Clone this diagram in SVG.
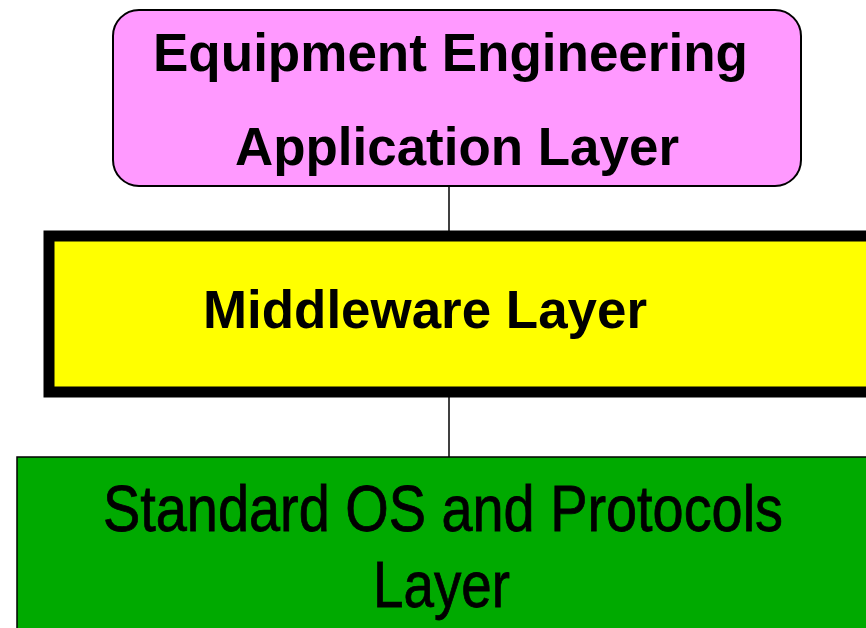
<svg xmlns="http://www.w3.org/2000/svg" width="866" height="628" viewBox="0 0 866 628">
<style>
.t{font-family:"Liberation Sans",Arial,sans-serif;fill:#000}
.b{font-weight:bold}
.h{stroke:#000;stroke-width:0.8}
.conn line{stroke:#000;stroke-width:1.5}
</style>
<rect width="866" height="628" fill="#fff"/>
<g class="conn">
<line x1="449" y1="186" x2="449" y2="232"/>
<line x1="449" y1="396" x2="449" y2="458"/>
</g>
<g id="app">
<rect x="113" y="10" width="688" height="176" rx="26" fill="#ff99ff" stroke="#000" stroke-width="2"/>
<text class="t b" x="153" y="71" font-size="53" textLength="595" lengthAdjust="spacingAndGlyphs">Equipment Engineering</text>
<text class="t b" x="235" y="165" font-size="53" textLength="444" lengthAdjust="spacingAndGlyphs">Application Layer</text>
</g>
<g id="middleware">
<rect x="49" y="236" width="830" height="156" fill="#ffff00" stroke="#000" stroke-width="11"/>
<text class="t b" x="203" y="328" font-size="53" textLength="444" lengthAdjust="spacingAndGlyphs">Middleware Layer</text>
</g>
<g id="os">
<rect x="17" y="457" width="860" height="200" fill="#00aa00" stroke="#000" stroke-width="1.5"/>
<text class="t h" x="103" y="531" font-size="64" textLength="680" lengthAdjust="spacingAndGlyphs">Standard OS and Protocols</text>
<text class="t h" x="373" y="607" font-size="64" textLength="137" lengthAdjust="spacingAndGlyphs">Layer</text>
</g>
</svg>
